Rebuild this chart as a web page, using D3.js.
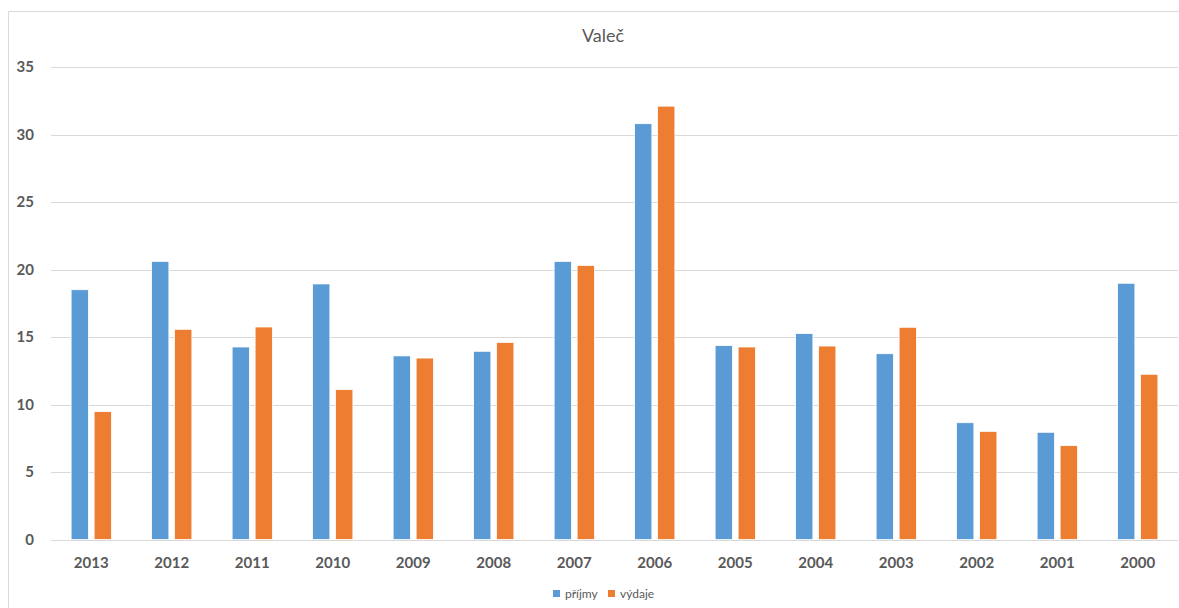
<!DOCTYPE html>
<html>
<head>
<meta charset="utf-8">
<script src="https://cdn.jsdelivr.net/npm/d3@7"></script>
<style>
  html, body { margin: 0; padding: 0; background: #fff; }
  svg { display: block; font-family: Lato, "Open Sans", sans-serif; }
</style>
</head>
<body>
<svg id="chart" width="1179" height="608"></svg>
<script>
const title = "Valeč";
const categories = ["2013","2012","2011","2010","2009","2008","2007","2006","2005","2004","2003","2002","2001","2000"];
const seriesNames = ["příjmy", "výdaje"];
const prijmy = [18.5, 20.6, 14.26, 18.93, 13.6, 13.94, 20.6, 30.8, 14.36, 15.25, 13.76, 8.65, 7.94, 18.98];
const vydaje = [9.47, 15.57, 15.74, 11.1, 13.44, 14.6, 20.3, 32.1, 14.26, 14.33, 15.72, 8.01, 6.95, 12.24];
const yTicks = [0, 5, 10, 15, 20, 25, 30, 35];
const colors = ["#5B9BD5", "#ED7D31"];

const svg = d3.select("#chart");
const W = 1179, H = 608;
const plot = { left: 51, right: 1178, top: 67, bottom: 539.5 };

// frame
svg.append("path")
  .attr("d", `M8.5,${H} V11.5 H${W}`)
  .attr("fill", "none").attr("stroke", "#D9D9D9").attr("stroke-width", 1);

const x0 = d3.scaleBand().domain(categories).range([plot.left, plot.right])
  .paddingInner(0.5).paddingOuter(0.25);
const x1 = d3.scaleBand().domain(seriesNames).range([0, x0.bandwidth()])
  .paddingInner(0.25).paddingOuter(0);
const y = d3.scaleLinear().domain([0, 35]).range([plot.bottom, plot.top]);

// gridlines
svg.append("g").selectAll("line").data(yTicks).join("line")
  .attr("x1", plot.left).attr("x2", plot.right)
  .attr("y1", d => Math.round(y(d)) + 0.5).attr("y2", d => Math.round(y(d)) + 0.5)
  .attr("stroke", "#D9D9D9").attr("stroke-width", 1);

// y axis labels
const yAxis = d3.axisLeft(y).tickValues(yTicks).tickSize(0).tickPadding(0);
const gy = svg.append("g").attr("transform", `translate(34,0)`).call(yAxis);
gy.select(".domain").remove();
gy.selectAll("text").attr("fill", "#595959").attr("font-size", 15).attr("font-weight", "bold")
  .attr("font-family", "Lato, 'Open Sans', sans-serif");

// bars
const data = categories.map((c, i) => ({ cat: c, vals: [prijmy[i], vydaje[i]] }));
const groups = svg.append("g").selectAll("g").data(data).join("g")
  .attr("transform", d => `translate(${x0(d.cat)},0)`);
groups.selectAll("rect").data(d => d.vals.map((v, j) => ({ s: seriesNames[j], v, j })))
  .join("rect")
  .attr("x", d => x1(d.s))
  .attr("width", x1.bandwidth())
  .attr("y", d => y(d.v))
  .attr("height", d => y(0) - y(d.v))
  .attr("fill", d => colors[d.j])
  .attr("stroke", "#fff").attr("stroke-width", 0.75);

// x axis labels
const xAxis = d3.axisBottom(x0).tickSize(0).tickPadding(0);
const gx = svg.append("g").attr("transform", `translate(0,${plot.bottom + 18})`).call(xAxis);
gx.select(".domain").remove();
gx.selectAll("text").attr("fill", "#595959").attr("font-size", 15).attr("font-weight", "bold")
  .attr("font-family", "Lato, 'Open Sans', sans-serif");

// title
svg.append("text").attr("x", 603).attr("y", 42).attr("text-anchor", "middle")
  .attr("fill", "#595959").attr("font-size", 18).text(title);

// legend
const legend = svg.append("g").attr("transform", "translate(553,589)");
const legX = [0, 55];
seriesNames.forEach((n, i) => {
  const g = legend.append("g").attr("transform", `translate(${legX[i]},0)`);
  g.append("rect").attr("width", 7).attr("height", 7).attr("y", 1).attr("fill", colors[i]);
  g.append("text").attr("x", 12).attr("y", 9).attr("fill", "#595959").attr("font-size", 12).text(n);
});
</script>
</body>
</html>
